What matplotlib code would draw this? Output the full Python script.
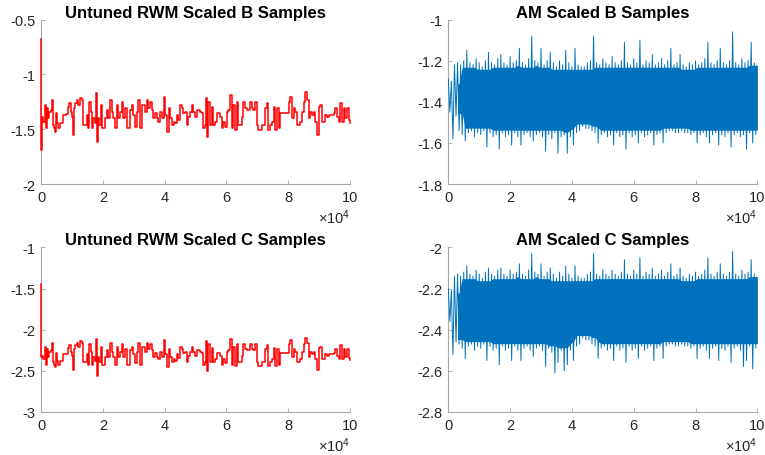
import numpy as np
import matplotlib
matplotlib.use("Agg")
import matplotlib.pyplot as plt
from matplotlib.ticker import FuncFormatter

plt.rcParams['font.family'] = ['Liberation Sans', 'DejaVu Sans']
plt.rcParams['axes.unicode_minus'] = False
plt.rcParams['mathtext.fontset'] = 'custom'
plt.rcParams['mathtext.rm'] = 'Liberation Sans'
plt.rcParams['mathtext.it'] = 'Liberation Sans'

# ---------------- data ----------------
titles = ["Untuned RWM Scaled B Samples", "AM Scaled B Samples",
          "Untuned RWM Scaled C Samples", "AM Scaled C Samples"]
n_samples = 100000

# Untuned RWM: step trace, sample positions where the chain moves
rwm_x = [0, 30, 216, 756, 1296, 1620, 2052, 2376, 2700, 3132, 3456, 3780, 4212, 4536, 4860,
         5292, 5616, 6156, 6696, 7236, 8100, 8856, 9180, 9612, 9936, 10260, 10692, 11016,
         11556, 12096, 12636, 13176, 13716, 14256, 14796, 15336, 15660, 16092, 16416, 16956,
         17496, 17820, 18036, 18252, 18576, 18900, 19332, 19656, 20196, 20736, 21276, 21816,
         22356, 22896, 23436, 23976, 24516, 25056, 25596, 26136, 26676, 27216, 27756, 28296,
         28836, 29376, 29916, 30456, 30996, 31536, 32076, 32616, 33156, 33696, 34236, 34776,
         35316, 35856, 36396, 36936, 37476, 38016, 38556, 39096, 39636, 40176, 40716, 41256,
         41796, 42336, 42876, 43416, 43956,
         44448, 44988, 45528, 46068, 46608, 47148, 47688, 48228, 48768, 49308, 49848, 50388,
         50928, 51468, 52008, 52548, 53088, 53412, 53628, 54168, 54708, 55248, 55788, 56328,
         56868, 57408, 57948, 58488, 59028, 59568, 60108, 60648, 61188, 61728, 62268, 62808,
         63348, 63888, 64428, 64968, 65508, 66048, 66588, 67128, 67668, 68208, 68748, 69288,
         69828, 70368, 70908, 71448, 71988, 72528, 73068, 73608, 74148, 74688, 75228, 75768,
         76308, 76848, 77388, 77928, 78468, 79008, 79548, 80088, 80628, 81168, 81708, 82248,
         82788, 83328, 83868, 84408, 84948, 85488, 86028, 86568, 87108, 87648, 88188, 88728,
         89268, 89808, 90348, 90888, 91428, 91968, 92508, 93048, 93588, 94128, 94668, 95208,
         95748, 96288, 96828, 97368, 97908, 98448, 98988, 99528, 100000]

rwm_b = [-0.68, -1.69, -1.385, -1.430, -1.279, -1.491, -1.309, -1.400, -1.339, -1.324, -1.233,
         -1.461, -1.491, -1.521, -1.355, -1.445, -1.491, -1.445, -1.445, -1.370, -1.364, -1.294,
         -1.264, -1.339, -1.385, -1.551, -1.309, -1.264, -1.233, -1.279, -1.218, -1.233, -1.461,
         -1.461, -1.370, -1.491, -1.248, -1.339, -1.491, -1.400, -1.445, -1.173, -1.370, -1.612,
         -1.400, -1.461, -1.279, -1.491, -1.491, -1.400, -1.324, -1.400, -1.233, -1.339, -1.400,
         -1.491, -1.279, -1.400, -1.339, -1.248, -1.400, -1.309, -1.491, -1.491, -1.324, -1.279,
         -1.370, -1.476, -1.339, -1.233, -1.491, -1.279, -1.279, -1.339, -1.233, -1.309, -1.248,
         -1.324, -1.400, -1.355, -1.400, -1.430, -1.339, -1.400, -1.203, -1.370, -1.521, -1.309,
         -1.400, -1.461, -1.430, -1.445, -1.370,
         -1.415, -1.279, -1.309, -1.355, -1.339, -1.461, -1.385, -1.339, -1.279, -1.339, -1.385,
         -1.324, -1.324, -1.339, -1.355, -1.491, -1.461, -1.218, -1.567, -1.248, -1.461, -1.294,
         -1.461, -1.430, -1.355, -1.355, -1.385, -1.491, -1.430, -1.476, -1.339, -1.324, -1.188,
         -1.491, -1.279, -1.506, -1.248, -1.461, -1.461, -1.385, -1.248, -1.309, -1.324, -1.324,
         -1.248, -1.309, -1.324, -1.248, -1.461, -1.506, -1.506, -1.461, -1.461, -1.309, -1.264,
         -1.506, -1.461, -1.430, -1.294, -1.506, -1.309, -1.491, -1.355, -1.355, -1.355, -1.355,
         -1.355, -1.248, -1.203, -1.400, -1.309, -1.339, -1.461, -1.461, -1.430, -1.339, -1.248,
         -1.157, -1.233, -1.400, -1.339, -1.370, -1.339, -1.430, -1.551, -1.294, -1.279, -1.430,
         -1.430, -1.370, -1.385, -1.370, -1.370, -1.370, -1.355, -1.309, -1.385, -1.430, -1.264,
         -1.430, -1.309, -1.400, -1.309, -1.415, -1.44]

rwm_c = [-1.45, -2.33, -2.315, -2.362, -2.205, -2.426, -2.236, -2.331, -2.268, -2.252, -2.157,
         -2.394, -2.426, -2.457, -2.284, -2.378, -2.426, -2.378, -2.378, -2.300, -2.294, -2.221,
         -2.190, -2.268, -2.315, -2.488, -2.236, -2.190, -2.157, -2.205, -2.142, -2.157, -2.394,
         -2.394, -2.300, -2.426, -2.173, -2.268, -2.426, -2.331, -2.378, -2.110, -2.300, -2.565,
         -2.331, -2.394, -2.205, -2.426, -2.426, -2.331, -2.252, -2.331, -2.157, -2.268, -2.331,
         -2.426, -2.205, -2.331, -2.268, -2.173, -2.331, -2.236, -2.426, -2.426, -2.252, -2.205,
         -2.300, -2.410, -2.268, -2.157, -2.426, -2.205, -2.205, -2.268, -2.157, -2.236, -2.173,
         -2.252, -2.331, -2.284, -2.331, -2.362, -2.268, -2.331, -2.126, -2.300, -2.457, -2.236,
         -2.331, -2.394, -2.362, -2.378, -2.300,
         -2.347, -2.205, -2.236, -2.284, -2.268, -2.394, -2.315, -2.268, -2.205, -2.268, -2.315,
         -2.252, -2.252, -2.268, -2.284, -2.426, -2.394, -2.142, -2.505, -2.173, -2.394, -2.221,
         -2.394, -2.362, -2.284, -2.284, -2.315, -2.426, -2.362, -2.410, -2.268, -2.252, -2.111,
         -2.426, -2.205, -2.441, -2.173, -2.394, -2.394, -2.315, -2.173, -2.236, -2.252, -2.252,
         -2.173, -2.236, -2.252, -2.173, -2.394, -2.441, -2.441, -2.394, -2.394, -2.236, -2.190,
         -2.441, -2.394, -2.362, -2.221, -2.441, -2.236, -2.426, -2.284, -2.284, -2.284, -2.284,
         -2.284, -2.173, -2.126, -2.331, -2.236, -2.268, -2.394, -2.394, -2.362, -2.268, -2.173,
         -2.095, -2.157, -2.331, -2.268, -2.300, -2.268, -2.362, -2.488, -2.221, -2.205, -2.362,
         -2.362, -2.300, -2.315, -2.300, -2.300, -2.300, -2.284, -2.236, -2.315, -2.362, -2.190,
         -2.362, -2.236, -2.331, -2.236, -2.347, -2.37]

# Adaptive Metropolis: upper / lower excursions of the trace per 1000-sample block
am_b_hi = [-1.29, -1.30, -1.22, -1.21, -1.22, -1.20, -1.15, -1.21, -1.22, -1.19,
           -1.21, -1.23, -1.20, -1.16, -1.21, -1.22, -1.19, -1.17, -1.21, -1.22,
           -1.18, -1.21, -1.20, -1.14, -1.21, -1.22, -1.19, -1.08, -1.20, -1.21,
           -1.14, -1.22, -1.20, -1.16, -1.21, -1.23, -1.20, -1.22, -1.15, -1.21,
           -1.23, -1.14, -1.22, -1.23, -1.23, -1.21, -1.20, -1.08, -1.21, -1.22,
           -1.19, -1.21, -1.22, -1.18, -1.21, -1.22, -1.20, -1.11, -1.21, -1.22,
           -1.19, -1.21, -1.10, -1.22, -1.20, -1.21, -1.17, -1.22, -1.21, -1.19,
           -1.22, -1.20, -1.14, -1.22, -1.21, -1.17, -1.22, -1.23, -1.21, -1.22,
           -1.20, -1.22, -1.21, -1.19, -1.11, -1.21, -1.22, -1.20, -1.14, -1.21,
           -1.22, -1.20, -1.06, -1.21, -1.22, -1.19, -1.21, -1.20, -1.11, -1.21]
am_b_lo = [-1.45, -1.58, -1.47, -1.54, -1.56, -1.59, -1.55, -1.54, -1.57, -1.55,
           -1.56, -1.54, -1.62, -1.55, -1.57, -1.56, -1.63, -1.55, -1.57, -1.56,
           -1.61, -1.55, -1.57, -1.61, -1.56, -1.55, -1.57, -1.59, -1.56, -1.55,
           -1.57, -1.64, -1.56, -1.58, -1.55, -1.65, -1.57, -1.56, -1.65, -1.57,
           -1.61, -1.55, -1.54, -1.52, -1.53, -1.53, -1.54, -1.55, -1.60, -1.56,
           -1.55, -1.57, -1.56, -1.61, -1.55, -1.57, -1.56, -1.63, -1.55, -1.57,
           -1.56, -1.60, -1.55, -1.57, -1.56, -1.55, -1.61, -1.56, -1.55, -1.60,
           -1.55, -1.54, -1.54, -1.55, -1.55, -1.54, -1.55, -1.55, -1.56, -1.55,
           -1.60, -1.56, -1.55, -1.57, -1.60, -1.56, -1.55, -1.61, -1.56, -1.57,
           -1.55, -1.62, -1.56, -1.55, -1.57, -1.56, -1.63, -1.55, -1.60, -1.56]
am_c_hi = [-2.20, -2.21, -2.14, -2.13, -2.14, -2.12, -2.09, -2.13, -2.14, -2.11,
           -2.13, -2.15, -2.12, -2.10, -2.13, -2.14, -2.11, -2.10, -2.13, -2.14,
           -2.11, -2.13, -2.12, -2.08, -2.13, -2.14, -2.11, -2.03, -2.12, -2.13,
           -2.08, -2.14, -2.12, -2.10, -2.13, -2.15, -2.12, -2.14, -2.09, -2.13,
           -2.15, -2.09, -2.14, -2.15, -2.15, -2.13, -2.12, -2.03, -2.13, -2.14,
           -2.11, -2.13, -2.14, -2.11, -2.13, -2.14, -2.12, -2.06, -2.13, -2.14,
           -2.11, -2.13, -2.05, -2.14, -2.12, -2.13, -2.10, -2.14, -2.13, -2.11,
           -2.14, -2.12, -2.08, -2.14, -2.13, -2.10, -2.14, -2.15, -2.13, -2.14,
           -2.12, -2.14, -2.13, -2.11, -2.05, -2.13, -2.14, -2.12, -2.08, -2.13,
           -2.14, -2.12, -2.02, -2.13, -2.14, -2.11, -2.13, -2.12, -2.06, -2.13]
am_c_lo = [-2.36, -2.52, -2.46, -2.47, -2.49, -2.54, -2.48, -2.47, -2.50, -2.48,
           -2.49, -2.47, -2.55, -2.48, -2.50, -2.49, -2.57, -2.48, -2.50, -2.49,
           -2.55, -2.48, -2.50, -2.55, -2.49, -2.48, -2.50, -2.53, -2.49, -2.48,
           -2.50, -2.58, -2.49, -2.51, -2.61, -2.56, -2.50, -2.60, -2.57, -2.50,
           -2.55, -2.48, -2.47, -2.44, -2.45, -2.45, -2.47, -2.48, -2.54, -2.49,
           -2.48, -2.50, -2.49, -2.55, -2.48, -2.50, -2.49, -2.56, -2.48, -2.50,
           -2.49, -2.54, -2.48, -2.50, -2.49, -2.48, -2.55, -2.49, -2.48, -2.54,
           -2.48, -2.47, -2.47, -2.48, -2.48, -2.47, -2.48, -2.48, -2.49, -2.48,
           -2.54, -2.49, -2.48, -2.50, -2.54, -2.49, -2.48, -2.55, -2.49, -2.50,
           -2.48, -2.56, -2.49, -2.48, -2.50, -2.58, -2.55, -2.48, -2.59, -2.49]

ylims = [(-2, -0.5), (-1.8, -1.0), (-3, -1), (-2.8, -2.0)]
yticks = [[-2, -1.5, -1, -0.5], [-1.8, -1.6, -1.4, -1.2, -1],
          [-3, -2.5, -2, -1.5, -1], [-2.8, -2.6, -2.4, -2.2, -2]]
xtick_vals = [0, 2, 4, 6, 8, 10]

RED = '#ff0000'
BLUE = '#0072bd'
AX_COL = '#a8a8a8'
TXT_COL = '#262626'


def draw_am(ax, hi, lo, col):
    hi = np.asarray(hi)
    lo = np.asarray(lo)
    n = len(hi)
    block = n_samples / n
    # thin trace zig-zagging between the block extremes
    xs = np.empty(2 * n)
    ys = np.empty(2 * n)
    xs[0::2] = np.arange(n) * block
    xs[1::2] = np.arange(n) * block + block / 2
    ys[0::2] = hi
    ys[1::2] = lo
    xs = np.append(xs, n_samples)
    ys = np.append(ys, hi[-1])
    ax.plot(xs, ys, color=col, lw=0.7, zorder=3)
    # dense body of the trace (inner part, without the excursions)
    win = 5
    hp = np.pad(hi, win // 2, mode='edge')
    lp = np.pad(lo, win // 2, mode='edge')
    core_top = np.array([hp[i:i + win].min() for i in range(n)]) - 0.012
    core_bot = np.array([lp[i:i + win].max() for i in range(n)]) + 0.012
    start = 3
    xc = np.arange(n) * block + block / 2
    xc = np.concatenate([[start * block], xc[start:], [n_samples]])
    ct = np.concatenate([[core_top[start]], core_top[start:], [core_top[-1]]])
    cb = np.concatenate([[core_bot[start]], core_bot[start:], [core_bot[-1]]])
    ax.fill_between(xc, ct, cb, color=col, lw=0, zorder=2.5)


fig = plt.figure(figsize=(7.65, 4.56), dpi=100)
lefts = [0.0536, 0.586]
bottoms = [0.594, 0.0943]
w, h = 0.404, 0.361

series = [
    ('rwm', rwm_x, rwm_b, RED),
    ('am', am_b_hi, am_b_lo, BLUE),
    ('rwm', rwm_x, rwm_c, RED),
    ('am', am_c_hi, am_c_lo, BLUE),
]

for k in range(4):
    r, c = divmod(k, 2)
    ax = fig.add_axes([lefts[c], bottoms[r], w, h])
    kind, a, b, col = series[k]
    if kind == 'rwm':
        ax.plot(a, b, color=col, lw=1.1, drawstyle='steps-post', zorder=3, clip_on=False)
    else:
        draw_am(ax, a, b, col)
    ax.set_xlim(0, n_samples)
    ax.set_ylim(*ylims[k])
    ax.set_yticks(yticks[k])
    ax.yaxis.set_major_formatter(FuncFormatter(lambda v, p: f'{v:g}'))
    ax.set_xticks([v * 1e4 for v in xtick_vals])
    ax.set_xticklabels([str(v) for v in xtick_vals])
    for s in ['top', 'right']:
        ax.spines[s].set_visible(False)
    for s in ['left', 'bottom']:
        ax.spines[s].set_color(AX_COL)
        ax.spines[s].set_linewidth(0.8)
    ax.tick_params(direction='in', length=3, width=0.6, color=AX_COL,
                   labelsize=10.5, labelcolor=TXT_COL, pad=4)
    ax.set_title(titles[k], fontsize=12, fontweight='bold', color='black', pad=2)
    ax.text(1.0, -0.20, r'$\times 10^{4}$', transform=ax.transAxes, ha='right',
            va='center', fontsize=10.5, color=TXT_COL)

fig.savefig('out.png', dpi=100)
